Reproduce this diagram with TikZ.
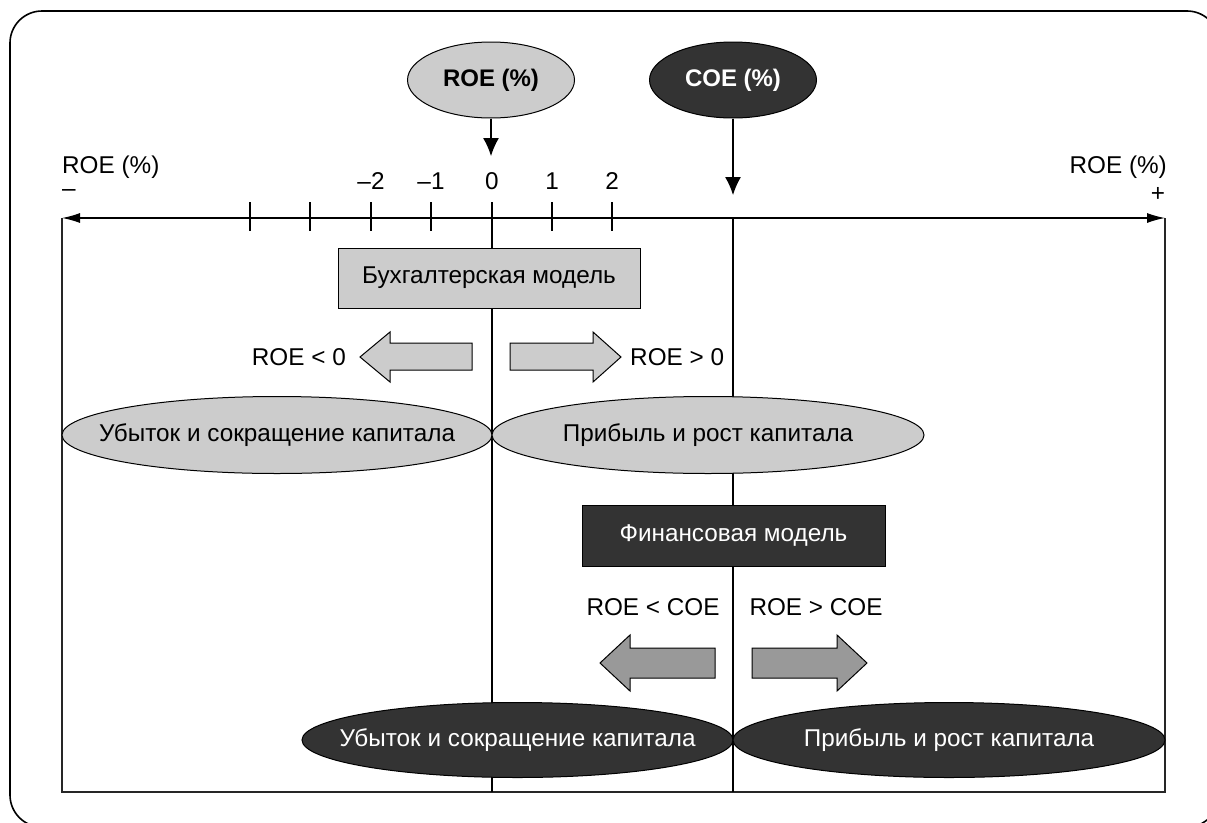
\documentclass[tikz,border=0pt]{standalone}
\usepackage{fontspec}
\setmainfont{Liberation Sans}
\usepackage{xcolor}
\usepackage{tikz}
\usetikzlibrary{arrows.meta,positioning,shapes.geometric}
\definecolor{roelight}{HTML}{CCCCCC}
\definecolor{coedark}{HTML}{333333}
\definecolor{arrowmid}{HTML}{999999}
\newcommand\labfont{\fontsize{24.3}{28}\selectfont}
\newcommand\labfontb{\fontsize{24}{28}\selectfont\bfseries}
\newcommand\zerobox[1]{\makebox[0pt]{#1}}
\tikzset{
  lightell/.style={ellipse, draw=black, line width=1pt, fill=roelight, inner sep=0pt, font=\labfont},
  darkell/.style={ellipse, draw=black, line width=1pt, fill=coedark, text=white, inner sep=0pt, font=\labfont},
  lightbox/.style={rectangle, draw=black, line width=1pt, fill=roelight, inner sep=0pt, font=\labfont},
  darkbox/.style={rectangle, draw=black, line width=1pt, fill=coedark, text=white, inner sep=0pt, font=\labfont},
  txt/.style={inner sep=0pt, font=\labfont},
  axisline/.style={{Latex[length=18pt,width=10pt]}-{Latex[length=18pt,width=10pt]}, line width=1.2pt},
  ticker/.style={line width=1.2pt},
  framebox/.style={line width=1.5pt, draw=black!85},
  heavyline/.style={line width=2.6pt},
  arrow/.style={-{Latex[length=18pt,width=16pt]}, line width=1.2pt},
  lightblock/.style={draw=black, line width=1pt, fill=roelight},
  midblock/.style={draw=black, line width=1pt, fill=arrowmid}
}

\begin{document}
\begin{tikzpicture}[x=1pt, y=-1pt]
  \useasboundingbox (0,0) rectangle (1207,822);
  \clip (0,0) rectangle (1207,822);
  \draw[line width=1.6pt, rounded corners=32pt] (10,11) rectangle (1219,827);

  % axis and frame
  \coordinate (L) at (62,218);
  \coordinate (R) at (1165,218);
  \coordinate (LB) at (62,792);
  \coordinate (RB) at (1165,792);
  \coordinate (Z0) at (492,231);
  \coordinate (Z1) at (492,792);
  \coordinate (C0) at (733,218);
  \coordinate (C1) at (733,792);
  \draw[framebox] (L) -- (LB) -- (RB) -- (R);
  \draw[heavyline] (Z0) -- (Z1);
  \draw[heavyline] (C0) -- (C1);
  \draw[axisline] (L) -- (R);
  \foreach \x/\t in {250/,310/,371/–2,431/–1,492/0,552/1,612/2}{
    \draw[ticker] (\x,202) -- (\x,231);
    \node[txt] (t\x) at (\x,181) {\t};
  }
  \node[txt, anchor=west] (Lt) at (62,167) {ROE (\%)};
  \node[txt, anchor=west] (Lm) at (62,193) {–};
  \node[txt, anchor=east] (Rt) at (1167,167) {ROE (\%)};
  \node[txt] (Rp) at (1158,194) {+};

  % top ellipses
  \node[lightell, font=\labfontb, minimum width=167pt, minimum height=76pt] (A) at (491,80) {\zerobox{ROE (\%)}};
  \node[darkell, font=\labfontb, minimum width=167pt, minimum height=76pt] (B) at (733,80) {\zerobox{COE (\%)}};
  \coordinate (a0) at (491,156);
  \coordinate (b0) at (733,195);
  \draw[arrow] (A) -- (a0);
  \draw[arrow] (B) -- (b0);

  % accounting model
  \node[lightbox, minimum width=302pt, minimum height=60pt] (C) at (489,278) {Бухгалтерская модель};
  \draw[lightblock] (472,343) -- (390,343) -- (390,332) -- (360,357) -- (390,382) -- (390,370) -- (472,370) -- cycle;
  \draw[lightblock] (510,343) -- (593,343) -- (593,332) -- (621,357) -- (593,382) -- (593,370) -- (510,370) -- cycle;
  \node[txt, anchor=east] (I) at (346,357) {ROE < 0};
  \node[txt, anchor=west] (J) at (630,357) {ROE > 0};
  \node[lightell, minimum width=430pt, minimum height=77pt] (D) at (277,435) {\zerobox{Убыток и сокращение капитала}};
  \node[lightell, minimum width=432pt, minimum height=77pt] (E) at (708,435) {\zerobox{Прибыль и рост капитала}};

  % financial model
  \node[darkbox, minimum width=303pt, minimum height=61pt] (F) at (733.5,535.5) {Финансовая модель};
  \node[txt] (K) at (653,607) {ROE < COE};
  \node[txt] (M) at (816,607) {ROE > COE};
  \draw[midblock] (715,648) -- (630,648) -- (630,635) -- (600,663) -- (630,691) -- (630,678) -- (715,678) -- cycle;
  \draw[midblock] (752,648) -- (837,648) -- (837,635) -- (867,663) -- (837,691) -- (837,678) -- (752,678) -- cycle;
  \node[darkell, minimum width=431pt, minimum height=75pt] (G) at (517.5,740) {\zerobox{Убыток и сокращение капитала}};
  \node[darkell, minimum width=432pt, minimum height=75pt] (H) at (949,740) {\zerobox{Прибыль и рост капитала}};
\end{tikzpicture}
\end{document}
